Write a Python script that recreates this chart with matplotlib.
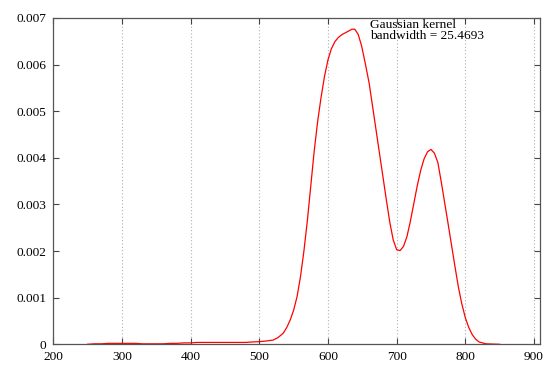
import matplotlib
matplotlib.use("Agg")
import matplotlib.pyplot as plt

# density estimate (x, density)
grid_x = [250, 260, 270, 280, 290, 300, 310, 320, 330, 340, 350, 360, 370, 380,
          390, 400, 410, 420, 430, 440, 450, 460, 470, 480, 490, 500, 510, 520,
          527, 535, 540, 545, 550, 555, 560, 565, 570, 575, 580, 585, 590, 595,
          600, 605, 610, 615, 620, 625, 630, 635, 639, 644, 649, 654, 660, 665,
          670, 675, 680, 685, 690, 695, 700, 705, 710, 715, 720, 725, 730, 735,
          740, 745, 750, 755, 760, 765, 770, 775, 780, 785, 790, 795, 800, 805,
          810, 815, 820, 830, 840, 850]
density = [0.0, 0.00001, 0.00001, 0.00002, 0.00002, 0.00002, 0.00002, 0.00002,
           0.00001, 0.00001, 0.00001, 0.00001, 0.00002, 0.00002, 0.00003, 0.00003,
           0.00004, 0.00004, 0.00004, 0.00004, 0.00004, 0.00004, 0.00004, 0.00004,
           0.00005, 0.000056, 0.00007, 0.00009, 0.00014, 0.00024, 0.00036, 0.00052,
           0.00073, 0.00102, 0.00145, 0.00200, 0.00265, 0.00340, 0.00415, 0.00478,
           0.00530, 0.00575, 0.00610, 0.00634, 0.00649, 0.00658, 0.00664, 0.00668,
           0.00672, 0.00676, 0.00676, 0.00665, 0.00640, 0.00605, 0.00560, 0.00510,
           0.00460, 0.00410, 0.00360, 0.00310, 0.00262, 0.00224, 0.00203, 0.00201,
           0.00210, 0.00231, 0.00264, 0.00302, 0.00340, 0.00373, 0.00398, 0.00413,
           0.00418, 0.00410, 0.00390, 0.00348, 0.00303, 0.00258, 0.00212, 0.00166,
           0.00122, 0.00086, 0.00057, 0.00036, 0.00021, 0.00011, 0.00005, 0.00001,
           0.000005, 0.0]

x_ticks = [200, 300, 400, 500, 600, 700, 800, 900]
y_ticks = [0, 0.001, 0.002, 0.003, 0.004, 0.005, 0.006, 0.007]
y_labels = ["0", "0.001", "0.002", "0.003", "0.004", "0.005", "0.006", "0.007"]
note = "Gaussian kernel\nbandwidth = 25.4693"

plt.rcParams["font.family"] = ["Liberation Serif", "DejaVu Serif"]

fig = plt.figure(figsize=(5.48, 3.71), dpi=100)
ax = fig.add_axes([0.0971, 0.072, 0.8874, 0.8795])

for xv in x_ticks[1:]:
    ax.axvline(xv, color="#b0b0b0", lw=0.8, ls=(0, (1, 2)), zorder=0)

ax.plot(grid_x, density, color="#ff0000", lw=0.9)

ax.set_xlim(200, 908)
ax.set_ylim(0, 0.007)
ax.set_xticks(x_ticks)
ax.set_yticks(y_ticks)
ax.set_yticklabels(y_labels)
ax.tick_params(direction="in", length=4.5, width=0.8, color="#444444",
               top=True, right=True, labelsize=9.6, pad=5)
for s in ax.spines.values():
    s.set_color("#555555")
    s.set_linewidth(0.9)

ax.text(661, 0.00698, note, fontsize=9.6, va="top", ha="left", linespacing=0.95)

fig.savefig("out.png", dpi=100)
